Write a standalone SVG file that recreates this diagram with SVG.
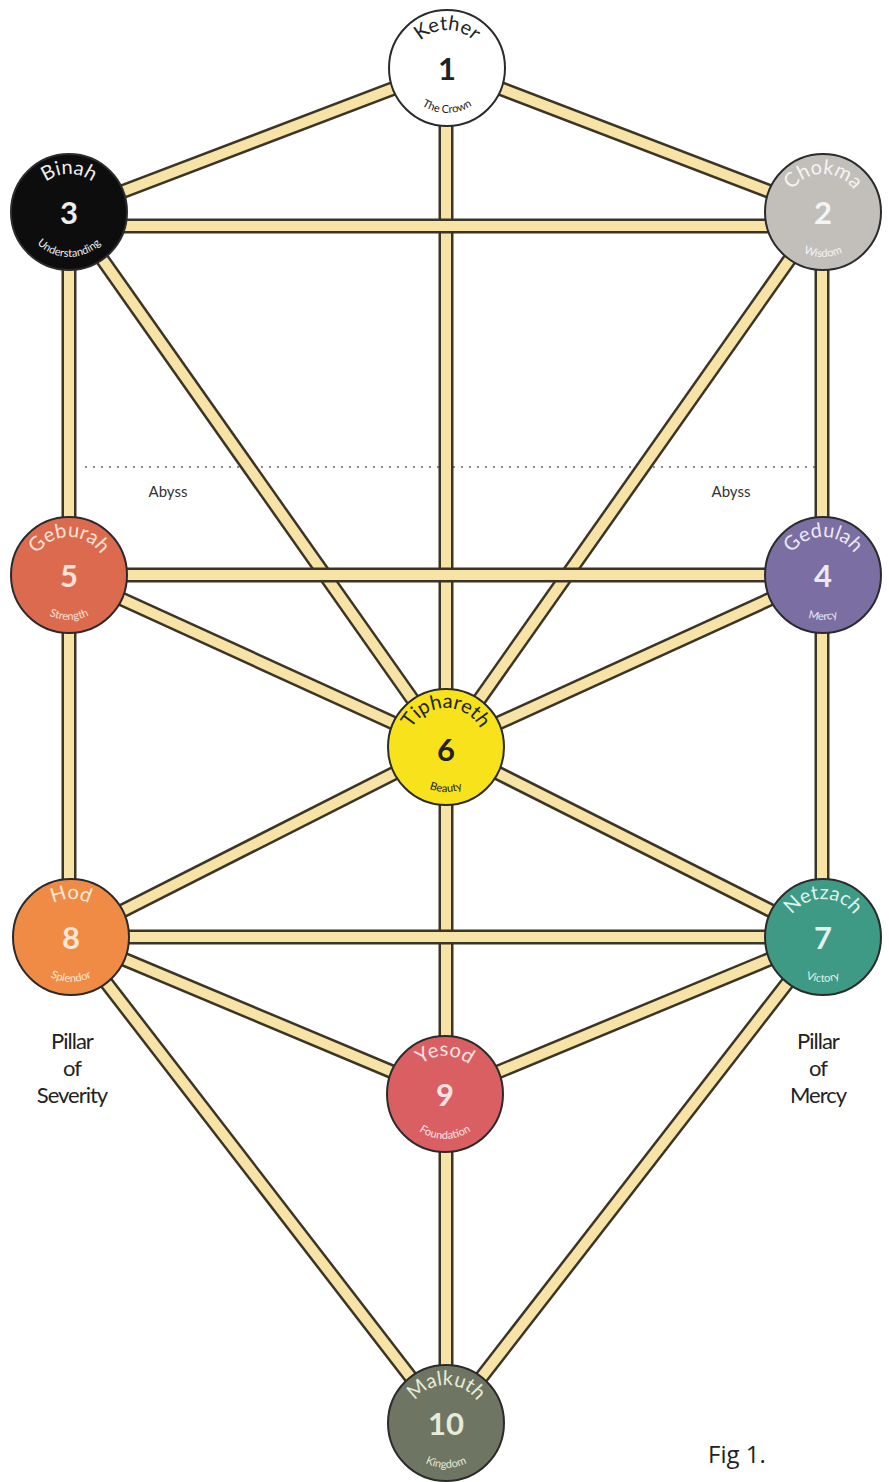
<svg xmlns="http://www.w3.org/2000/svg" width="889" height="1482" viewBox="0 0 889 1482">
<style>
.o{stroke:#3a3526;stroke-width:15;fill:none}
.f{stroke:#f8e3a6;stroke-width:10;fill:none}
.node circle{stroke:#2b2b2b;stroke-width:2}
.nm{font-family:"Lato","Open Sans",sans-serif;font-size:20px;text-anchor:middle}
.num{font-family:"Lato","Open Sans",sans-serif;font-size:31px;font-weight:bold;text-anchor:middle}
.sub{font-family:"Lato","Open Sans",sans-serif;font-size:11px;text-anchor:middle}
.lbl{font-family:"Lato","Open Sans",sans-serif;font-size:22px;fill:#222;text-anchor:middle;letter-spacing:-1px}
.aby{font-family:"Lato","Open Sans",sans-serif;font-size:15px;fill:#333;text-anchor:middle}
</style>
<rect width="889" height="1482" fill="#ffffff"/>
<line x1="85" y1="467" x2="815" y2="467" stroke="#666" stroke-width="1.5" stroke-dasharray="2 6"/>
<text class="aby" x="168" y="497">Abyss</text>
<text class="aby" x="731" y="497">Abyss</text>
<g id="connectors">
<line class="o" x1="447" y1="68" x2="69" y2="212"/><line class="f" x1="447" y1="68" x2="69" y2="212"/>
<line class="o" x1="447" y1="68" x2="823" y2="212"/><line class="f" x1="447" y1="68" x2="823" y2="212"/>
<line class="o" x1="446" y1="68" x2="446" y2="747"/><line class="f" x1="446" y1="68" x2="446" y2="747"/>
<line class="o" x1="69" y1="226" x2="823" y2="226"/><line class="f" x1="69" y1="226" x2="823" y2="226"/>
<line class="o" x1="69" y1="212" x2="69" y2="937"/><line class="f" x1="69" y1="212" x2="69" y2="937"/>
<line class="o" x1="822" y1="212" x2="822" y2="937"/><line class="f" x1="822" y1="212" x2="822" y2="937"/>
<line class="o" x1="69" y1="212" x2="446" y2="747"/><line class="f" x1="69" y1="212" x2="446" y2="747"/>
<line class="o" x1="823" y1="212" x2="446" y2="747"/><line class="f" x1="823" y1="212" x2="446" y2="747"/>
<line class="o" x1="69" y1="575" x2="823" y2="575"/><line class="f" x1="69" y1="575" x2="823" y2="575"/>
<line class="o" x1="69" y1="575" x2="446" y2="747"/><line class="f" x1="69" y1="575" x2="446" y2="747"/>
<line class="o" x1="823" y1="575" x2="446" y2="747"/><line class="f" x1="823" y1="575" x2="446" y2="747"/>
<line class="o" x1="446" y1="747" x2="71" y2="937"/><line class="f" x1="446" y1="747" x2="71" y2="937"/>
<line class="o" x1="446" y1="747" x2="823" y2="937"/><line class="f" x1="446" y1="747" x2="823" y2="937"/>
<line class="o" x1="446" y1="747" x2="446" y2="1423"/><line class="f" x1="446" y1="747" x2="446" y2="1423"/>
<line class="o" x1="71" y1="937" x2="823" y2="937"/><line class="f" x1="71" y1="937" x2="823" y2="937"/>
<line class="o" x1="71" y1="937" x2="445" y2="1094"/><line class="f" x1="71" y1="937" x2="445" y2="1094"/>
<line class="o" x1="823" y1="937" x2="445" y2="1094"/><line class="f" x1="823" y1="937" x2="445" y2="1094"/>
<line class="o" x1="71" y1="937" x2="446" y2="1423"/><line class="f" x1="71" y1="937" x2="446" y2="1423"/>
<line class="o" x1="823" y1="937" x2="446" y2="1423"/><line class="f" x1="823" y1="937" x2="446" y2="1423"/>
</g>
<g id="kether" class="node">
<circle cx="447" cy="68" r="58" fill="#ffffff"/>
<path id="p1a" d="M409,68 A38,38 0 0 1 485,68" fill="none"/>
<path id="p1b" d="M402,68 A45,45 0 0 0 492,68" fill="none"/>
<text class="nm" fill="#222"><textPath href="#p1a" startOffset="50%">Kether</textPath></text>
<text class="num" x="447" y="80" fill="#222">1</text>
<text class="sub" fill="#222"><textPath href="#p1b" startOffset="50%">The Crown</textPath></text>
</g>
<g id="binah" class="node">
<circle cx="69" cy="212" r="58" fill="#0d0d0d"/>
<path id="p3a" d="M31,212 A38,38 0 0 1 107,212" fill="none"/>
<path id="p3b" d="M24,212 A45,45 0 0 0 114,212" fill="none"/>
<text class="nm" fill="#eee"><textPath href="#p3a" startOffset="50%">Binah</textPath></text>
<text class="num" x="69" y="224" fill="#eee">3</text>
<text class="sub" fill="#eee"><textPath href="#p3b" startOffset="50%">Understanding</textPath></text>
</g>
<g id="chokma" class="node">
<circle cx="823" cy="212" r="58" fill="#c2bfbb"/>
<path id="p2a" d="M785,212 A38,38 0 0 1 861,212" fill="none"/>
<path id="p2b" d="M778,212 A45,45 0 0 0 868,212" fill="none"/>
<text class="nm" fill="#f4f4f4"><textPath href="#p2a" startOffset="50%">Chokma</textPath></text>
<text class="num" x="823" y="224" fill="#f4f4f4">2</text>
<text class="sub" fill="#f4f4f4"><textPath href="#p2b" startOffset="50%">Wisdom</textPath></text>
</g>
<g id="geburah" class="node">
<circle cx="69" cy="575" r="58" fill="#dc6a4f"/>
<path id="p5a" d="M31,575 A38,38 0 0 1 107,575" fill="none"/>
<path id="p5b" d="M24,575 A45,45 0 0 0 114,575" fill="none"/>
<text class="nm" fill="#fbe2d6"><textPath href="#p5a" startOffset="50%">Geburah</textPath></text>
<text class="num" x="69" y="587" fill="#fbe2d6">5</text>
<text class="sub" fill="#fbe2d6"><textPath href="#p5b" startOffset="50%">Strength</textPath></text>
</g>
<g id="gedulah" class="node">
<circle cx="823" cy="575" r="58" fill="#7a6ea3"/>
<path id="p4a" d="M785,575 A38,38 0 0 1 861,575" fill="none"/>
<path id="p4b" d="M778,575 A45,45 0 0 0 868,575" fill="none"/>
<text class="nm" fill="#ece8f6"><textPath href="#p4a" startOffset="50%">Gedulah</textPath></text>
<text class="num" x="823" y="587" fill="#ece8f6">4</text>
<text class="sub" fill="#ece8f6"><textPath href="#p4b" startOffset="50%">Mercy</textPath></text>
</g>
<g id="tiphareth" class="node">
<circle cx="446" cy="747" r="58" fill="#f8e21b"/>
<path id="p6a" d="M407,747 A39,39 0 0 1 485,747" fill="none"/>
<path id="p6b" d="M401,747 A45,45 0 0 0 491,747" fill="none"/>
<text class="nm" fill="#222" font-size="18"><textPath href="#p6a" startOffset="50%">Tiphareth</textPath></text>
<text class="num" x="446" y="761" fill="#222">6</text>
<text class="sub" fill="#222"><textPath href="#p6b" startOffset="50%">Beauty</textPath></text>
</g>
<g id="hod" class="node">
<circle cx="71" cy="937" r="58" fill="#ef8b45"/>
<path id="p8a" d="M33,937 A38,38 0 0 1 109,937" fill="none"/>
<path id="p8b" d="M26,937 A45,45 0 0 0 116,937" fill="none"/>
<text class="nm" fill="#fde8d6"><textPath href="#p8a" startOffset="50%">Hod</textPath></text>
<text class="num" x="71" y="949" fill="#fde8d6">8</text>
<text class="sub" fill="#fde8d6"><textPath href="#p8b" startOffset="50%">Splendor</textPath></text>
</g>
<g id="netzach" class="node">
<circle cx="823" cy="937" r="58" fill="#3e9985"/>
<path id="p7a" d="M785,937 A38,38 0 0 1 861,937" fill="none"/>
<path id="p7b" d="M778,937 A45,45 0 0 0 868,937" fill="none"/>
<text class="nm" fill="#dff3ec"><textPath href="#p7a" startOffset="50%">Netzach</textPath></text>
<text class="num" x="823" y="949" fill="#dff3ec">7</text>
<text class="sub" fill="#dff3ec"><textPath href="#p7b" startOffset="50%">Victory</textPath></text>
</g>
<g id="yesod" class="node">
<circle cx="445" cy="1094" r="58" fill="#d95f63"/>
<path id="p9a" d="M407,1094 A38,38 0 0 1 483,1094" fill="none"/>
<path id="p9b" d="M400,1094 A45,45 0 0 0 490,1094" fill="none"/>
<text class="nm" fill="#fde3e3"><textPath href="#p9a" startOffset="50%">Yesod</textPath></text>
<text class="num" x="445" y="1106" fill="#fde3e3">9</text>
<text class="sub" fill="#fde3e3"><textPath href="#p9b" startOffset="50%">Foundation</textPath></text>
</g>
<g id="malkuth" class="node">
<circle cx="446" cy="1423" r="58" fill="#6e7562"/>
<path id="p10a" d="M408,1423 A38,38 0 0 1 484,1423" fill="none"/>
<path id="p10b" d="M401,1423 A45,45 0 0 0 491,1423" fill="none"/>
<text class="nm" fill="#e6ecd8"><textPath href="#p10a" startOffset="50%">Malkuth</textPath></text>
<text class="num" x="446" y="1435" fill="#e6ecd8">10</text>
<text class="sub" fill="#e6ecd8"><textPath href="#p10b" startOffset="50%">Kingdom</textPath></text>
</g>
<g id="pillar-severity">
<text class="lbl" x="72" y="1049">Pillar</text>
<text class="lbl" x="72" y="1076">of</text>
<text class="lbl" x="72" y="1103">Severity</text>
</g>
<g id="pillar-mercy">
<text class="lbl" x="818" y="1049">Pillar</text>
<text class="lbl" x="818" y="1076">of</text>
<text class="lbl" x="818" y="1103">Mercy</text>
</g>
<text x="708" y="1463" font-family="Open Sans, Liberation Sans, sans-serif" font-size="24" fill="#222">Fig 1.</text>
</svg>
